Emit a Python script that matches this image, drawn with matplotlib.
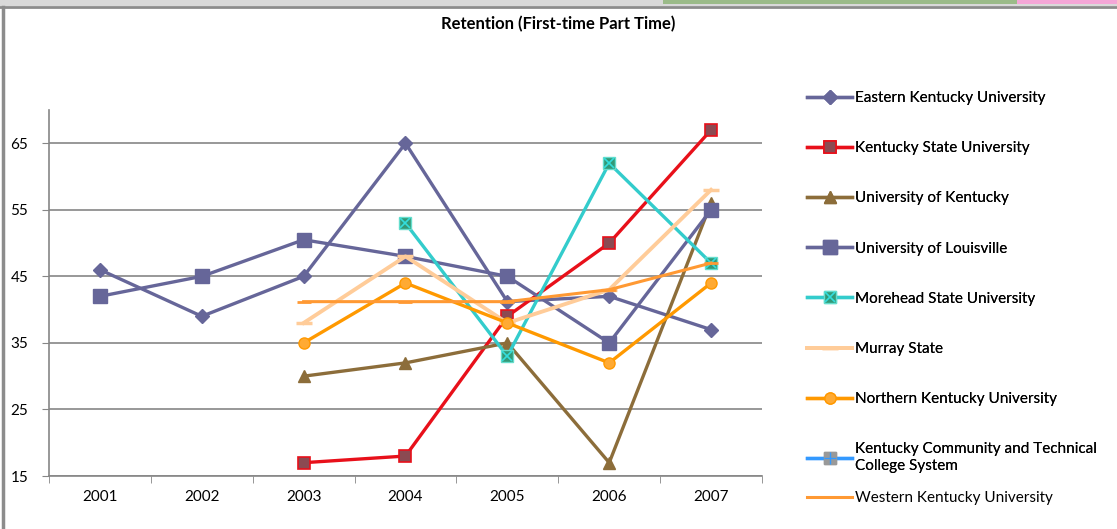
import numpy as np
import matplotlib
matplotlib.use('Agg')
import matplotlib.pyplot as plt
import matplotlib.patches as patches
from matplotlib.lines import Line2D
from matplotlib.legend_handler import HandlerTuple

plt.rcParams['font.family'] = ['Lato', 'DejaVu Sans']

years = ['2001', '2002', '2003', '2004', '2005', '2006', '2007']
nan = np.nan

eastern = [46, 39, 45, 65, 41.2, 42, 37]
kentucky_state = [nan, nan, 17, 18, 39, 50, 67]
uk = [nan, nan, 30, 32, 35, 17, 56]
louisville = [42, 45, 50.5, 48, 45, 35, 55]
morehead = [nan, nan, nan, 53, 33, 62, 47]
murray = [nan, nan, 38, 48, 38, 43, 58]
northern = [nan, nan, 35, 44, 38, 32, 44]
kctcs = [nan] * 7
western = [nan, nan, 41.2, 41.2, 41.2, 43, 47]

y_ticks = [15, 25, 35, 45, 55, 65]

labels = ['Eastern Kentucky University', 'Kentucky State University',
          'University of Kentucky', 'University of Louisville',
          'Morehead State University', 'Murray State',
          'Northern Kentucky University',
          'Kentucky Community and Technical\nCollege System',
          'Western Kentucky University']

fig = plt.figure(figsize=(11.17, 5.29), dpi=100)
ax = fig.add_axes([49 / 1117, 1 - 476 / 529, 713 / 1117, 366 / 529])
x = np.arange(len(years))

handles = []
l, = ax.plot(x, eastern, color='#666699', lw=2.4, marker='D', ms=7)
handles.append(l)
l, = ax.plot(x, kentucky_state, color='#E8101A', lw=2.4, marker='s', ms=8,
             mfc='#8B4A52', mec='#E8101A', mew=1.2)
handles.append(l)
l, = ax.plot(x, uk, color='#8C6D3A', lw=2.4, marker='^', ms=9)
handles.append(l)
l, = ax.plot(x, louisville, color='#666699', lw=2.4, marker='s', ms=10)
handles.append(l)
l1, = ax.plot(x, morehead, color='#33CCCC', lw=2.4, marker='s', ms=9,
              mfc='#339977', mec='#66DDCC', mew=1)
l2, = ax.plot(x, morehead, ls='none', marker='x', ms=7, mec='#33DDDD', mew=1.2)
handles.append((l1, l2))
l, = ax.plot(x, murray, color='#FFCC99', lw=2.8, marker='_', ms=12, mew=2.5)
handles.append(l)
l, = ax.plot(x, northern, color='#FF9900', lw=2.4, marker='o', ms=8,
             mfc='#FFAA33', mec='#FF9900')
handles.append(l)
k1, = ax.plot(x, kctcs, color='#3399FF', lw=2.4, marker='s', ms=9,
              mfc='#999999', mec='#999999')
k2, = ax.plot(x, kctcs, ls='none', marker='+', ms=8, mec='#3399FF', mew=1)
handles.append((k1, k2))
l, = ax.plot(x, western, color='#FF9933', lw=2.2, marker='_', ms=10, mew=2)
handles.append(l)

ax.set_xlim(-0.5, 6.5)
ax.set_ylim(15, 70)
ax.set_yticks(y_ticks)
ax.set_xticks(x)
ax.set_xticklabels(years)
ax.set_xticks(np.arange(-0.5, 7, 1), minor=True)
ax.tick_params(axis='x', which='major', length=0, pad=10, labelsize=11)
ax.tick_params(axis='x', which='minor', length=5, color='#868686', direction='out')
ax.tick_params(axis='y', length=5, color='#868686', labelsize=11, pad=10)
ax.grid(axis='y', color='#868686', lw=1.2)
ax.set_axisbelow(True)
for s in ['top', 'right']:
    ax.spines[s].set_visible(False)
for s in ['left', 'bottom']:
    ax.spines[s].set_color('#868686')
    ax.spines[s].set_linewidth(1.2)

leg_kw = dict(loc='upper left', frameon=False, fontsize=11, handlelength=2.95,
              handletextpad=0.2, borderpad=0, borderaxespad=0,
              handler_map={tuple: HandlerTuple(ndivide=1)})
leg1 = fig.legend(handles[:8], labels[:8], bbox_to_anchor=(807 / 1117, 1 - 91 / 529),
                  labelspacing=2.37, **leg_kw)
fig.legend(handles[8:], labels[8:], bbox_to_anchor=(807 / 1117, 1 - 491 / 529), **leg_kw)
fig.add_artist(leg1)

fig.text(0.5, 1 - 24 / 529, 'Retention (First-time Part Time)', ha='center', va='center',
         fontsize=12, fontweight='bold')

# surrounding frame from the screenshot
fig.add_artist(patches.Rectangle((0, 1 - 6 / 529), 1, 6 / 529, transform=fig.transFigure,
                                 facecolor='#D9D9D9', edgecolor='none'))
fig.add_artist(patches.Rectangle((663 / 1117, 1 - 4 / 529), 354 / 1117, 4 / 529,
                                 transform=fig.transFigure, facecolor='#9BBB89', edgecolor='none'))
fig.add_artist(patches.Rectangle((1017 / 1117, 1 - 4 / 529), 100 / 1117, 4 / 529,
                                 transform=fig.transFigure, facecolor='#F4A6D7', edgecolor='none'))
fig.add_artist(Line2D([0, 1], [1 - 7 / 529] * 2, transform=fig.transFigure, color='#8C8C8C', lw=2))
fig.add_artist(Line2D([3 / 1117] * 2, [0, 1 - 7 / 529], transform=fig.transFigure, color='#8C8C8C', lw=2.5))

fig.savefig('out.png', dpi=100)
